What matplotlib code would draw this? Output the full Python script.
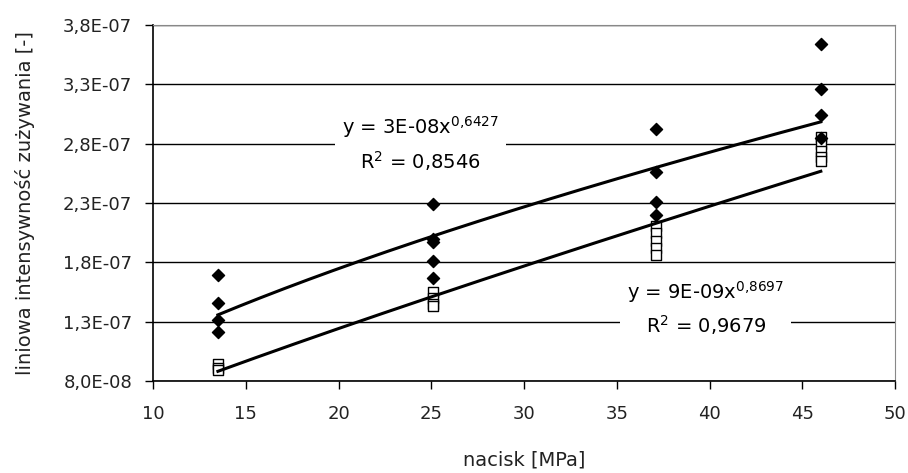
import numpy as np
import matplotlib
matplotlib.use("Agg")
import matplotlib.pyplot as plt
from matplotlib.ticker import FuncFormatter

plt.rcParams['font.family'] = ['DejaVu Sans']
plt.rcParams['mathtext.default'] = 'regular'

# nacisk [MPa] dla serii z rombami (pełne) i kwadratami (puste)
x_diamond = [13.5, 13.5, 13.5, 13.5,
             25.1, 25.1, 25.1, 25.1, 25.1,
             37.1, 37.1, 37.1, 37.1,
             46.0, 46.0, 46.0, 46.0]
y_diamond = [1.69e-7, 1.455e-7, 1.31e-7, 1.21e-7,
             2.29e-7, 2.00e-7, 1.97e-7, 1.81e-7, 1.67e-7,
             2.92e-7, 2.56e-7, 2.31e-7, 2.195e-7,
             3.64e-7, 3.265e-7, 3.04e-7, 2.85e-7]

x_square = [13.5, 13.5, 13.5,
            25.1, 25.1, 25.1, 25.1,
            37.1, 37.1, 37.1, 37.1, 37.1,
            46.0, 46.0, 46.0, 46.0, 46.0]
y_square = [0.94e-7, 0.91e-7, 0.89e-7,
            1.55e-7, 1.50e-7, 1.45e-7, 1.43e-7,
            2.11e-7, 2.05e-7, 1.98e-7, 1.92e-7, 1.86e-7,
            2.86e-7, 2.80e-7, 2.74e-7, 2.69e-7, 2.65e-7]

y_ticks = [8.0e-8, 1.3e-7, 1.8e-7, 2.3e-7, 2.8e-7, 3.3e-7, 3.8e-7]
x_ticks = [10, 15, 20, 25, 30, 35, 40, 45, 50]

eq_upper = ["y = 3E-08x$^{0{,}6427}$", "R$^{2}$ = 0,8546"]
eq_lower = ["y = 9E-09x$^{0{,}8697}$", "R$^{2}$ = 0,9679"]


def power_fit(xs, ys):
    b, ln_a = np.polyfit(np.log(xs), np.log(ys), 1)
    return np.exp(ln_a), b


fig = plt.figure(figsize=(9.08, 4.73), dpi=100)
ax = fig.add_axes([0.1685, 0.1945, 0.8172, 0.7526])

for v in y_ticks:
    ax.axhline(v, color='black', lw=1.0, zorder=1)

ax.scatter(x_diamond, y_diamond, marker='D', s=38, color='black', zorder=3)
ax.scatter(x_square, y_square, marker='s', s=44, facecolor='white',
           edgecolor='black', linewidths=1.0, zorder=2)

for xs, ys in [(x_diamond, y_diamond), (x_square, y_square)]:
    a, b = power_fit(xs, ys)
    xx = np.linspace(min(xs), max(xs), 200)
    ax.plot(xx, a * xx ** b, color='black', lw=2.2, zorder=4)

box = dict(facecolor='white', edgecolor='none', pad=5)
ax.text(24.4, 2.80e-7, "\n".join(eq_upper), ha='center', va='center',
        fontsize=14, linespacing=1.45, bbox=box, zorder=5)
ax.text(39.8, 1.415e-7, "\n".join(eq_lower), ha='center', va='center',
        fontsize=14, linespacing=1.45, bbox=box, zorder=5)

ax.set_xlim(10, 50)
ax.set_ylim(8.0e-8, 3.8e-7)
ax.set_xticks(x_ticks)
ax.set_yticks(y_ticks)
ax.yaxis.set_major_formatter(FuncFormatter(lambda v, p: f"{v:.1E}".replace('.', ',')))
ax.tick_params(axis='both', direction='out', length=6, width=1, labelsize=13,
               colors='black', labelcolor='#222222')
ax.tick_params(axis='y', pad=9)
ax.tick_params(axis='x', pad=11)

for side in ['top', 'right']:
    ax.spines[side].set_color('#888888')
for side in ['left', 'bottom']:
    ax.spines[side].set_color('black')
    ax.spines[side].set_linewidth(1.2)

ax.set_xlabel("nacisk [MPa]", fontsize=14, color='#222222', labelpad=20)
ax.set_ylabel("liniowa intensywność zużywania [-]", fontsize=14,
              color='#222222', labelpad=20)

fig.savefig("out.png", dpi=100, facecolor='white')
